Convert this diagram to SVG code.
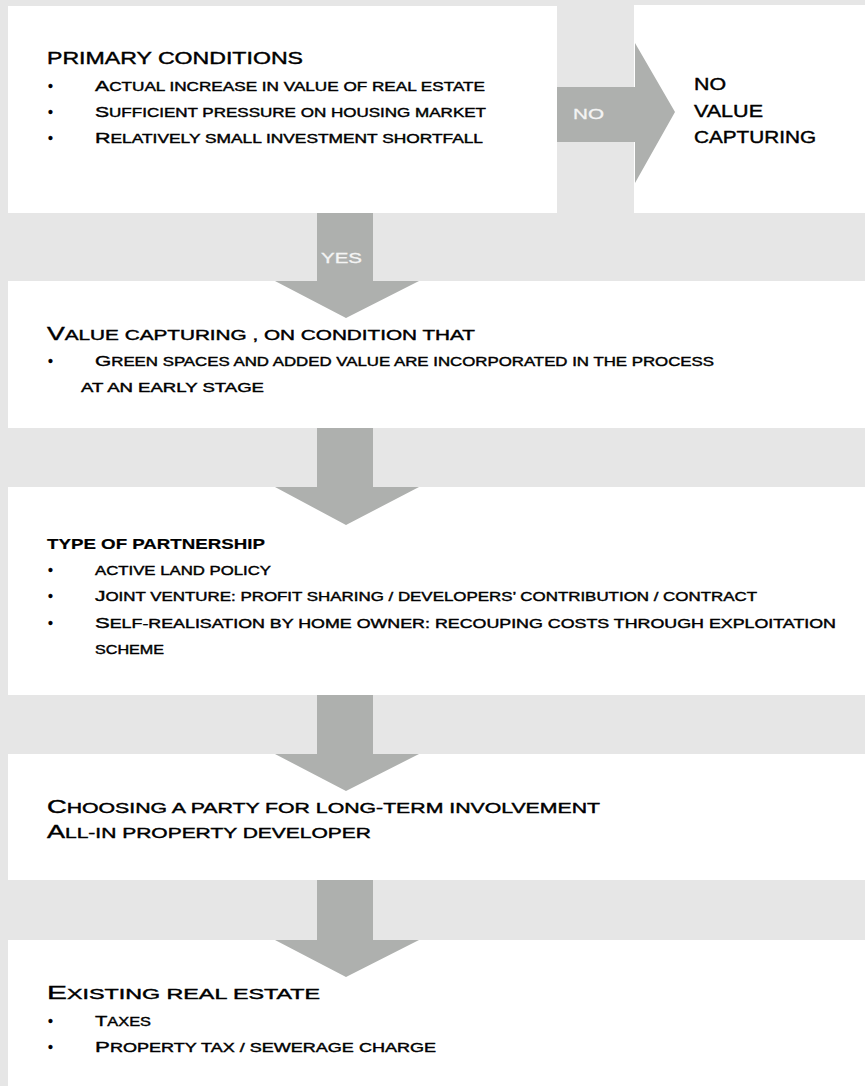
<svg xmlns="http://www.w3.org/2000/svg" width="865" height="1086" viewBox="0 0 865 1086">
<style>
  text { font-family: "Liberation Sans", Arial, sans-serif; fill: #000; stroke: #000; stroke-width: 0.4px; }
  .box { fill: #ffffff; }
  .arrow { fill: #aeb0ae; }
  .lbl { fill: #f4f4f4; stroke: #f4f4f4; stroke-width: 0.3px; font-size: 15px; }
  .h1 { font-size: 16.5px; }
  .s { font-size: 12.5px; }
  .s .c { font-size: 15.5px; }
  .hs { font-size: 14px; }
  .hs .c { font-size: 18px; }
  .bu { font-size: 14px; }
  .bold { font-size: 15.5px; font-weight: bold; stroke-width: 0.2px; }
</style>
<rect x="0" y="0" width="865" height="1086" fill="#e6e6e6"/>

<g id="node-primary">
  <rect class="box" x="8" y="6" width="549" height="207"/>
  <text class="h1" x="47" y="64" textLength="256" lengthAdjust="spacingAndGlyphs">PRIMARY CONDITIONS</text>
  <text class="bu" x="48" y="91">•</text>
  <text class="s" x="95" y="91" textLength="390" lengthAdjust="spacingAndGlyphs"><tspan class="c">A</tspan>CTUAL INCREASE IN VALUE OF REAL ESTATE</text>
  <text class="bu" x="48" y="117">•</text>
  <text class="s" x="95" y="117" textLength="391" lengthAdjust="spacingAndGlyphs"><tspan class="c">S</tspan>UFFICIENT PRESSURE ON HOUSING MARKET</text>
  <text class="bu" x="48" y="143">•</text>
  <text class="s" x="95" y="143" textLength="388" lengthAdjust="spacingAndGlyphs"><tspan class="c">R</tspan>ELATIVELY SMALL INVESTMENT SHORTFALL</text>
</g>

<g id="node-no-capture">
  <rect class="box" x="634" y="5" width="231" height="208"/>
  <text class="h1" x="694" y="90" textLength="32" lengthAdjust="spacingAndGlyphs">NO</text>
  <text class="h1" x="694" y="117" textLength="69" lengthAdjust="spacingAndGlyphs">VALUE</text>
  <text class="h1" x="694" y="143" textLength="122" lengthAdjust="spacingAndGlyphs">CAPTURING</text>
</g>

<g id="node-value-capturing">
  <rect class="box" x="8" y="281" width="857" height="147"/>
  <text class="hs" x="47" y="340" textLength="428" lengthAdjust="spacingAndGlyphs"><tspan class="c">V</tspan>ALUE CAPTURING , ON CONDITION THAT</text>
  <text class="bu" x="48" y="366">•</text>
  <text class="s" x="95" y="366" textLength="619" lengthAdjust="spacingAndGlyphs"><tspan class="c">G</tspan>REEN SPACES AND ADDED VALUE ARE INCORPORATED IN THE PROCESS</text>
  <text class="s" x="81" y="392" textLength="183" lengthAdjust="spacingAndGlyphs">AT AN EARLY STAGE</text>
</g>

<g id="node-partnership">
  <rect class="box" x="8" y="487" width="857" height="208"/>
  <text class="bold" x="47" y="549" textLength="218" lengthAdjust="spacingAndGlyphs">TYPE OF PARTNERSHIP</text>
  <text class="bu" x="48" y="575">•</text>
  <text class="s" x="95" y="575" textLength="176" lengthAdjust="spacingAndGlyphs">ACTIVE LAND POLICY</text>
  <text class="bu" x="48" y="601">•</text>
  <text class="s" x="95" y="601" textLength="662" lengthAdjust="spacingAndGlyphs"><tspan class="c">J</tspan>OINT VENTURE: PROFIT SHARING / DEVELOPERS’ CONTRIBUTION / CONTRACT</text>
  <text class="bu" x="48" y="628">•</text>
  <text class="s" x="95" y="628" textLength="741" lengthAdjust="spacingAndGlyphs"><tspan class="c">S</tspan>ELF-REALISATION BY HOME OWNER: RECOUPING COSTS THROUGH EXPLOITATION</text>
  <text class="s" x="95" y="654" textLength="69" lengthAdjust="spacingAndGlyphs">SCHEME</text>
</g>

<g id="node-party">
  <rect class="box" x="8" y="754" width="857" height="126"/>
  <text class="hs" x="47" y="813" textLength="553" lengthAdjust="spacingAndGlyphs"><tspan class="c">C</tspan>HOOSING A PARTY FOR LONG-TERM INVOLVEMENT</text>
  <text class="hs" x="47" y="838" textLength="324" lengthAdjust="spacingAndGlyphs"><tspan class="c">A</tspan>LL-IN PROPERTY DEVELOPER</text>
</g>

<g id="node-existing">
  <rect class="box" x="8" y="940" width="857" height="146"/>
  <text class="hs" x="47" y="999" textLength="273" lengthAdjust="spacingAndGlyphs"><tspan class="c">E</tspan>XISTING REAL ESTATE</text>
  <text class="bu" x="48" y="1026">•</text>
  <text class="s" x="95" y="1026" textLength="56" lengthAdjust="spacingAndGlyphs"><tspan class="c">T</tspan>AXES</text>
  <text class="bu" x="48" y="1052">•</text>
  <text class="s" x="95" y="1052" textLength="341" lengthAdjust="spacingAndGlyphs"><tspan class="c">P</tspan>ROPERTY TAX / SEWERAGE CHARGE</text>
</g>

<g id="connectors">
  <polygon class="arrow" points="557,87 635,87 635,43 675,112 635,183 635,142 557,142"/>
  <text class="lbl" x="573" y="119" textLength="31" lengthAdjust="spacingAndGlyphs">NO</text>
  <polygon class="arrow" points="317,213 373,213 373,281 419,281 346,318 275,281 317,281"/>
  <text class="lbl" x="321" y="263" textLength="41" lengthAdjust="spacingAndGlyphs">YES</text>
  <polygon class="arrow" points="317,428 373,428 373,487 419,487 346,525 275,487 317,487"/>
  <polygon class="arrow" points="317,695 373,695 373,754 419,754 346,791 275,754 317,754"/>
  <polygon class="arrow" points="317,880 373,880 373,940 419,940 346,977 275,940 317,940"/>
</g>
</svg>
